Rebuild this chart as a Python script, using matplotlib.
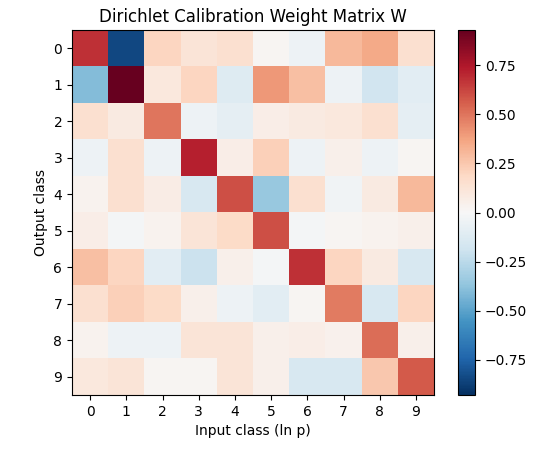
import numpy as np
import matplotlib
matplotlib.use('Agg')
import matplotlib.pyplot as plt

classes = [str(i) for i in range(10)]
W = np.array([
    [0.68, -0.85, 0.20, 0.12, 0.15, 0.02, -0.05, 0.30, 0.35, 0.15],
    [-0.40, 0.93, 0.10, 0.20, -0.12, 0.40, 0.28, -0.05, -0.18, -0.10],
    [0.15, 0.08, 0.50, -0.05, -0.08, 0.06, 0.08, 0.10, 0.15, -0.08],
    [-0.05, 0.15, -0.05, 0.72, 0.06, 0.22, -0.05, 0.05, -0.05, 0.02],
    [0.03, 0.15, 0.07, -0.15, 0.60, -0.35, 0.15, -0.03, 0.08, 0.30],
    [0.06, -0.02, 0.03, 0.12, 0.18, 0.60, -0.02, 0.02, 0.03, 0.05],
    [0.28, 0.20, -0.10, -0.20, 0.05, -0.02, 0.68, 0.20, 0.08, -0.15],
    [0.15, 0.22, 0.18, 0.05, -0.05, -0.10, 0.02, 0.48, -0.15, 0.20],
    [0.03, -0.05, -0.05, 0.12, 0.12, 0.05, 0.06, 0.04, 0.52, 0.05],
    [0.10, 0.12, 0.02, 0.02, 0.12, 0.05, -0.15, -0.15, 0.25, 0.57],
])

vmax = np.abs(W).max()
fig = plt.figure(figsize=(5.5, 4.5), dpi=100)
ax = fig.add_axes([72/550, 55/450, 362/550, 365/450])
cax = fig.add_axes([458/550, 55/450, 17/550, 365/450])
im = ax.imshow(W, cmap='RdBu_r', vmin=-vmax, vmax=vmax, aspect='auto')
fig.colorbar(im, cax=cax)
ax.set_xticks(range(10))
ax.set_xticklabels(classes)
ax.set_yticks(range(10))
ax.set_yticklabels(classes)
ax.set_xlabel('Input class (ln p)')
ax.set_ylabel('Output class')
ax.set_title('Dirichlet Calibration Weight Matrix W')
plt.savefig('out.png')
